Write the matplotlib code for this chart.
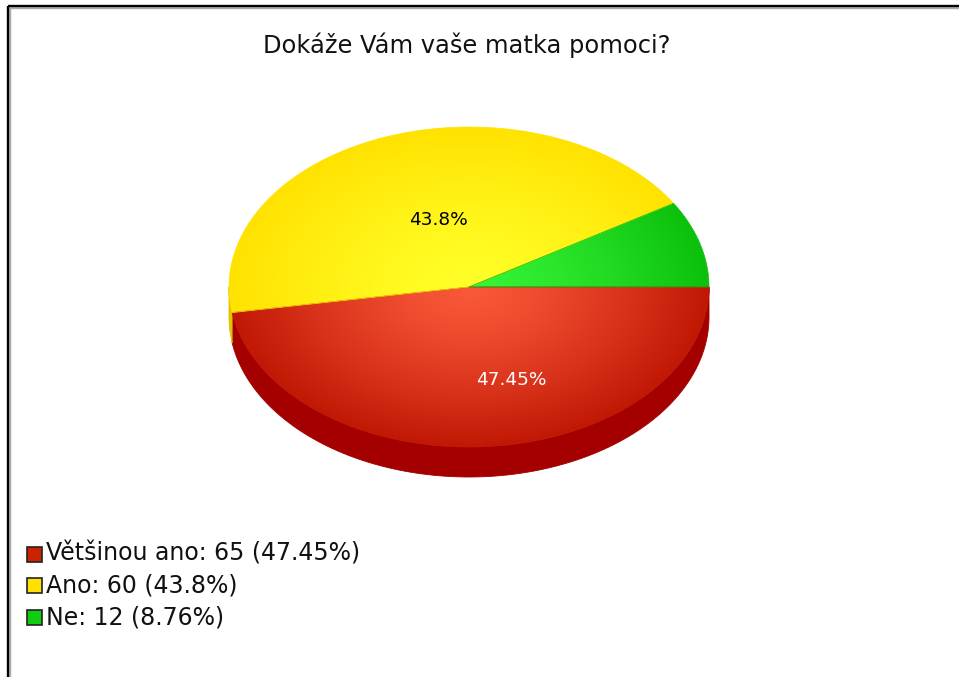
import numpy as np
import matplotlib
matplotlib.use("Agg")
import matplotlib.pyplot as plt
from matplotlib.path import Path
from matplotlib.patches import PathPatch, Rectangle
from matplotlib.lines import Line2D

# ---------------- data ----------------
title = "Dokáže Vám vaše matka pomoci?"
categories = ["Většinou ano", "Ano", "Ne"]
counts = [65, 60, 12]
percents = [47.45, 43.8, 8.76]
pct_labels = ["47.45%", "43.8%", ""]

# ---------------- style ----------------
top_center = [(250, 88, 58), (255, 255, 40), (55, 245, 55)]
top_edge = [(192, 24, 4), (255, 226, 0), (12, 192, 12)]
side_cols = ["#a40000", "#e0c400", "#0a9a0a"]
legend_cols = ["#cc2200", "#ffe000", "#11cc11"]
label_cols = ["white", "black", "black"]

W, H = 959, 677
fig = plt.figure(figsize=(W / 100, H / 100), dpi=100)
ax = fig.add_axes([0, 0, 1, 1])
ax.set_xlim(0, W)
ax.set_ylim(H, 0)
ax.axis("off")

FONT = "DejaVu Sans"

# frame (top and left lines)
ax.add_line(Line2D([8.5, 8.5], [6.5, H], color="#aaaaaa", lw=3.2, solid_capstyle="butt"))
ax.add_line(Line2D([8.5, W], [6.5, 6.5], color="#aaaaaa", lw=3.2, solid_capstyle="butt"))
ax.add_line(Line2D([8, 8], [6, H], color="black", lw=1.6, solid_capstyle="butt"))
ax.add_line(Line2D([8, W], [6, 6], color="black", lw=1.6, solid_capstyle="butt"))

ax.text(467, 45, title, ha="center", va="center", fontsize=17.4, family=FONT, color="#111111")

# pie geometry (screen coords, angle clockwise from 3 o'clock)
cx, cy, rx, ry, depth = 469, 287, 240, 160, 30
total = sum(counts)
fracs = [c / total for c in counts]
starts = np.concatenate([[0], np.cumsum(fracs)[:-1]]) * 360
ends = np.cumsum(fracs) * 360


def arc(a0, a1, dy=0.0, n=200):
    t = np.radians(np.linspace(a0, a1, n))
    return np.column_stack([cx + rx * np.cos(t), cy + ry * np.sin(t) + dy])


# sides (visible where angle in [0, 180])
for i in range(len(counts)):
    a0, a1 = max(starts[i], 0), min(ends[i], 180)
    if a1 > a0:
        top = arc(a0, a1)
        bot = arc(a1, a0, dy=depth)
        poly = np.vstack([top, bot])
        ax.fill(poly[:, 0], poly[:, 1], color=side_cols[i], lw=0.6, ec=side_cols[i], zorder=2)

# top faces with radial gradient
n = 400
xs = np.linspace(cx - rx, cx + rx, n)
ys = np.linspace(cy - ry, cy + ry, n)
X, Y = np.meshgrid(xs, ys)
R = np.clip(np.sqrt(((X - cx) / rx) ** 2 + ((Y - cy) / ry) ** 2), 0, 1)
for i in range(len(counts)):
    pts = np.vstack([[cx, cy], arc(starts[i], ends[i]), [cx, cy]])
    path = Path(pts)
    patch = PathPatch(path, fc="none", ec="none", transform=ax.transData)
    ax.add_patch(patch)
    c0 = np.array(top_center[i]) / 255
    c1 = np.array(top_edge[i]) / 255
    t = R[..., None] ** 1.3
    img = c0 * (1 - t) + c1 * t
    im = ax.imshow(img, origin="lower", extent=(cx - rx, cx + rx, cy - ry, cy + ry),
                   interpolation="bilinear", zorder=3, aspect="auto")
    im.set_clip_path(patch)
    ax.add_patch(PathPatch(path, fc="none", ec=tuple(c1), lw=0.5, zorder=3.5))

# percentage labels
label_pos = [(0.58, 31), (0.45, 7), (0.6, 0)]
for i in range(len(counts)):
    if not pct_labels[i]:
        continue
    mid = np.radians((starts[i] + ends[i]) / 2)
    f, dx = label_pos[i]
    lx = cx + f * rx * np.cos(mid) + dx
    ly = cy + f * ry * np.sin(mid)
    ax.text(lx, ly, pct_labels[i], ha="center", va="center", fontsize=13.3, family=FONT,
            color=label_cols[i], zorder=5)

# legend
ly0, dy = 554, 31.5
for i, cat in enumerate(categories):
    y = ly0 + i * dy
    ax.add_patch(Rectangle((27, y - 7.5), 15, 15, fc=legend_cols[i], ec="#222222", lw=1.2, zorder=5))
    ax.text(46, y, f"{cat}: {counts[i]} ({percents[i]:g}%)", ha="left", va="center",
            fontsize=17.0, family=FONT, color="#111111")

fig.savefig("out.png", dpi=100)
